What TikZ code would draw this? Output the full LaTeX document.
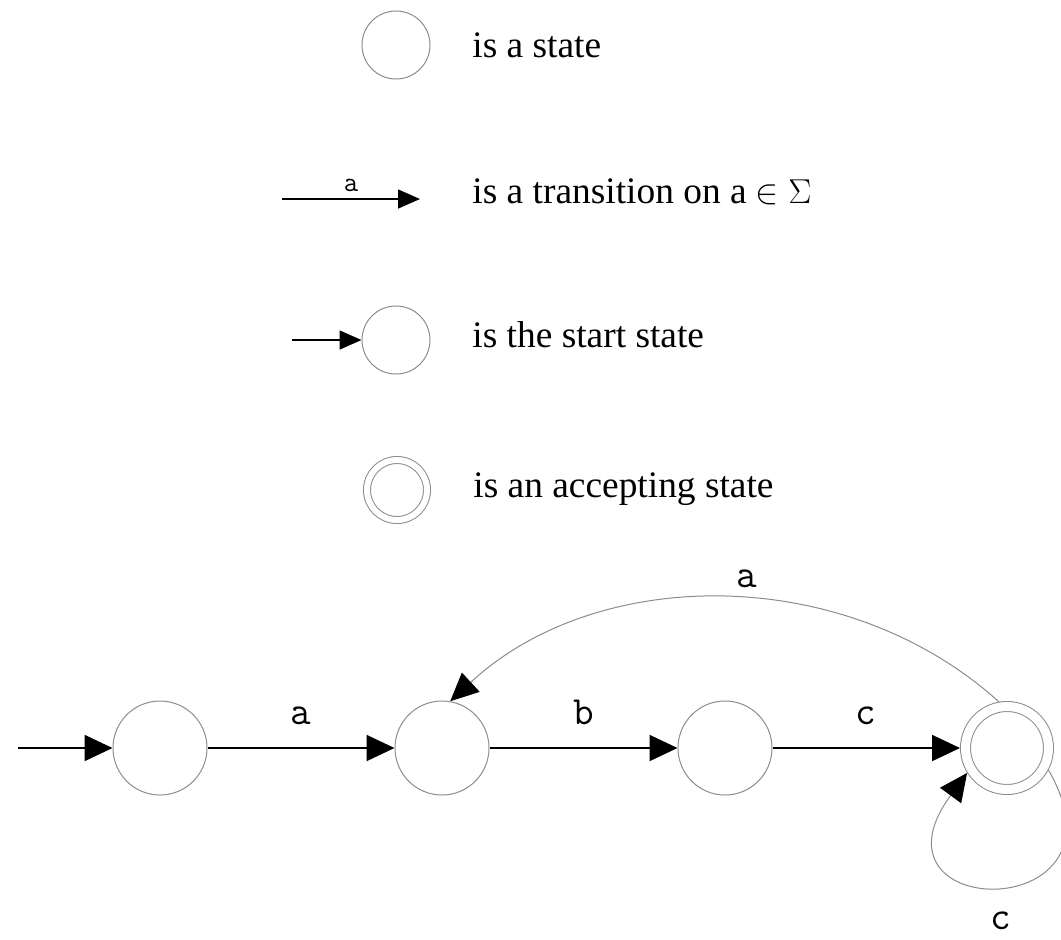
\documentclass[tikz,border=0pt]{standalone}
\usepackage{fontspec}
\setmainfont{Liberation Serif}
\usetikzlibrary{arrows.meta, positioning}

\begin{document}
\begin{tikzpicture}[x=0.5pt, y=-0.5pt,
    state/.style={circle, draw=black!45, line width=0.5pt, inner sep=0pt, minimum size=47pt},
    keystate/.style={state, minimum size=34pt},
    accept/.style={double, double distance=4.5pt, minimum size=41.5pt, outer sep=2.75pt},
    trans/.style={-{Triangle[length=14pt, width=13pt]}, line width=1pt},
    keytrans/.style={-{Triangle[length=11pt, width=9.5pt]}, line width=0.8pt},
    back/.style={draw=black!45, line width=0.5pt, -{Triangle[length=14pt, width=13pt, color=black]}},
    sym/.style={font=\fontsize{20}{20}\selectfont\ttfamily},
    keysym/.style={font=\fontsize{14}{14}\selectfont\ttfamily},
    keytext/.style={anchor=base west, inner sep=0pt, font=\fontsize{18.7}{22}\selectfont}
]
\useasboundingbox (0,0) rectangle (1061,939);

% legend
\node[keystate] (kstate) at (396,45) {};
\node[keytext] (kstatetxt) at (472,57) {is a state};

\coordinate (ka) at (282,199);
\coordinate (kb) at (420,199);
\draw[keytrans] (ka) -- node[above, keysym] {a} (kb);
\node[keytext] (ktranstxt) at (472,203) {is a transition on a $\in$ $\Sigma$};

\coordinate (kin) at (292,340);
\node[keystate] (kstart) at (396,340) {};
\draw[keytrans] (kin) -- (kstart);
\node[keytext] (kstarttxt) at (472,347) {is the start state};

\node[keystate, accept, minimum size=30pt, double distance=3pt, outer sep=2pt] (kacc) at (397,490) {};
\node[keytext] (kacctxt) at (473,497) {is an accepting state};

% automaton
\coordinate (in) at (18,748);
\node[state] (s0) at (160,748) {};
\node[state] (s1) at (442,748) {};
\node[state] (s2) at (725,748) {};
\node[state, accept] (s3) at (1007,748) {};

\draw[trans] (in) -- (s0);
\draw[trans] (s0) -- node[above=8pt, sym] {a} (s1);
\draw[trans] (s1) -- node[above=8pt, sym] {b} (s2);
\draw[trans] (s2) -- node[above=8pt, sym] {c} (s3);
\draw[back] (s3.100) .. controls +(-153,-138) and +(148,-137) .. node[pos=0.46, above=2pt, sym] {a} (s1.80);
\draw[back] (s3.-28) .. controls +(90,156) and +(-110,150) .. node[pos=0.5, below=9pt, sym] {c} (s3.212);
\end{tikzpicture}
\end{document}
